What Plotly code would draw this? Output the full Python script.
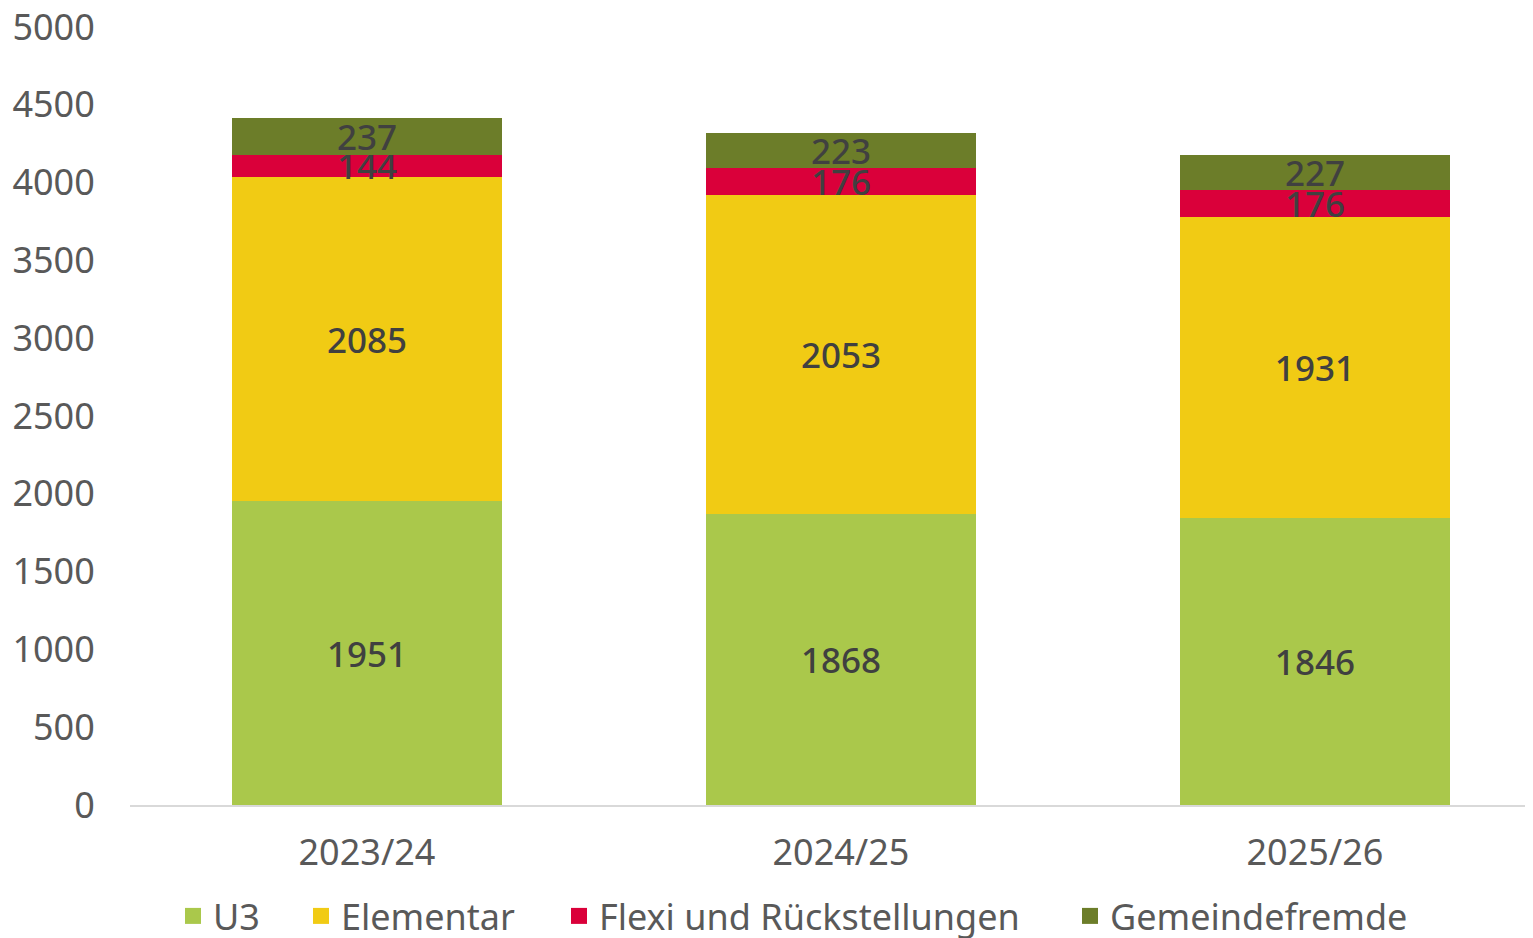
import plotly.graph_objects as go

categories = ["2023/24", "2024/25", "2025/26"]
u3 = [1951, 1868, 1846]
elementar = [2085, 2053, 1931]
flexi = [144, 176, 176]
gemeindefremde = [237, 223, 227]

series = [
    ("U3", u3, "#AAC84B"),
    ("Elementar", elementar, "#F1CB14"),
    ("Flexi und Rückstellungen", flexi, "#DA003A"),
    ("Gemeindefremde", gemeindefremde, "#6C7D29"),
]

# legend entry positions (pixel x of the marker) in the reference
legend_px = [185, 313, 571, 1082]

FONT = "Noto Sans"
OFF = 8  # page body margin
L, R, T = 130 - OFF, 0, 27 - OFF
W, H = 1533, 938
B = H - (805 - OFF)
pw, ph = W - L - R, H - T - B

fig = go.Figure()
for name, vals, col in series:
    fig.add_trace(go.Bar(
        x=categories, y=vals, name=name, marker_color=col,
        marker_line_width=0, width=0.57, showlegend=False,
        text=[str(v) for v in vals], textposition="inside",
        insidetextanchor="middle", textangle=0,
        textfont=dict(family=FONT, size=35, color="#404040", weight=500),
        cliponaxis=False,
    ))

legends = {}
for i, ((name, vals, col), px) in enumerate(zip(series, legend_px)):
    key = "legend" if i == 0 else f"legend{i+1}"
    fig.add_trace(go.Scatter(
        x=[None], y=[None], mode="markers", name=name, legend=key,
        marker=dict(symbol="square", size=16, color=col), showlegend=True,
    ))
    legends[key] = dict(
        orientation="h", x=(px - OFF - L - 12) / pw, xanchor="left",
        y=-((916 - OFF) - (T + ph)) / ph, yanchor="middle",
        font=dict(family=FONT, size=36, color="#595959"),
        itemwidth=30, bgcolor="rgba(0,0,0,0)", borderwidth=0,
    )

fig.update_layout(
    barmode="stack",
    width=W, height=H,
    margin=dict(l=L, r=R, t=T, b=B),
    paper_bgcolor="white", plot_bgcolor="white",
    uniformtext=dict(minsize=35, mode="show"),
    font=dict(family=FONT, size=36, color="#595959"),
    showlegend=True,
    xaxis=dict(range=[-0.5, 2.477], showline=True, linecolor="#D9D9D9", linewidth=2,
               ticks="outside", ticklen=15, tickcolor="rgba(0,0,0,0)", showgrid=False,
               automargin=False, tickfont=dict(size=36, color="#595959")),
    yaxis=dict(range=[0, 5000], dtick=500, showgrid=False, zeroline=False,
               showline=False, ticks="outside", ticklen=27, tickcolor="rgba(0,0,0,0)",
               automargin=False, ticklabeloverflow="allow",
               tickfont=dict(size=36, color="#595959")),
    **legends,
)

fig.write_html("out.html")
